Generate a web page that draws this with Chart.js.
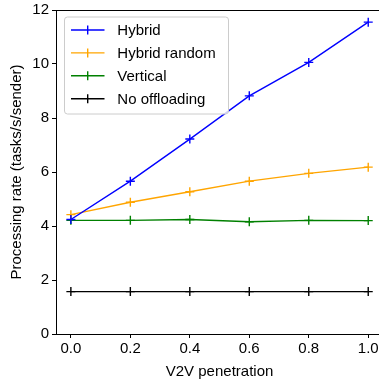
<!DOCTYPE html>
<html>
<head>
<meta charset="utf-8">
<script src="https://cdn.jsdelivr.net/npm/chart.js@4/dist/chart.umd.min.js"></script>
<style>
html,body{margin:0;padding:0;background:#fff;overflow:hidden;width:379px;height:381px;}
#wrap{width:379px;height:381px;position:relative;overflow:hidden;}
#c{position:absolute;left:0;top:0;}
</style>
</head>
<body>
<div id="wrap"><canvas id="c" width="389" height="381" style="width:389px;height:381px"></canvas></div>
<script>
const penetration = [0.0, 0.2, 0.4, 0.6, 0.8, 1.0];
const hybrid = [4.24, 5.66, 7.22, 8.82, 10.06, 11.55];
const hybridRandom = [4.42, 4.88, 5.27, 5.66, 5.95, 6.18];
const vertical = [4.21, 4.21, 4.24, 4.16, 4.21, 4.20];
const noOffloading = [1.57, 1.57, 1.57, 1.57, 1.57, 1.57];
const seriesNames = ["Hybrid", "Hybrid random", "Vertical", "No offloading"];
const seriesColors = ["#0000ff", "#ffa500", "#008000", "#000000"];
const xTicks = [0.0, 0.2, 0.4, 0.6, 0.8, 1.0];
const yTicks = [0, 2, 4, 6, 8, 10, 12];

const FONT = "'Liberation Sans', Arial, sans-serif";
const allSeries = [hybrid, hybridRandom, vertical, noOffloading];

const datasets = allSeries.map((s, i) => ({
  label: seriesNames[i],
  data: s.map((v, j) => ({x: penetration[j], y: v})),
  borderColor: seriesColors[i],
  backgroundColor: seriesColors[i],
  borderWidth: 1.4,
  pointStyle: 'cross',
  pointRadius: 4.5,
  pointBorderWidth: 1.4,
  pointHoverRadius: 4.5,
  tension: 0,
  fill: false
}));

const framePlugin = {
  id: 'frame',
  afterDatasetsDraw(chart) {
    const ctx = chart.ctx, a = chart.chartArea;
    ctx.save();
    ctx.strokeStyle = '#000';
    ctx.lineWidth = 1;
    ctx.beginPath();
    ctx.moveTo(a.left, a.top + 0.5);
    ctx.lineTo(a.right, a.top + 0.5);
    ctx.moveTo(a.right - 0.5, a.top);
    ctx.lineTo(a.right - 0.5, a.bottom);
    ctx.stroke();
    // legend
    const x0 = 64.5, y0 = 17, w = 164, h = 97;
    ctx.beginPath();
    ctx.roundRect(x0, y0, w, h, 3);
    ctx.fillStyle = 'rgba(255,255,255,0.8)';
    ctx.fill();
    ctx.strokeStyle = '#cccccc';
    ctx.lineWidth = 1;
    ctx.stroke();
    ctx.font = '15px ' + FONT;
    ctx.textBaseline = 'middle';
    chart.data.datasets.forEach((ds, i) => {
      const yy = 30 + i * 22.9;
      ctx.strokeStyle = ds.borderColor;
      ctx.lineWidth = 1.4;
      ctx.beginPath();
      ctx.moveTo(71, yy); ctx.lineTo(104.5, yy);
      ctx.moveTo(87.7, yy - 4.5); ctx.lineTo(87.7, yy + 4.5);
      ctx.stroke();
      ctx.fillStyle = '#000';
      ctx.fillText(ds.label, 117.3, yy + 1);
    });
    ctx.restore();
  }
};

new Chart(document.getElementById('c'), {
  type: 'line',
  data: {datasets},
  plugins: [framePlugin],
  options: {
    responsive: false,
    animation: false,
    events: [],
    layout: {padding: {top: 10, right: 0, left: 0, bottom: 0}},
    plugins: {legend: {display: false}, tooltip: {enabled: false}},
    scales: {
      x: {
        type: 'linear',
        min: -0.05, max: 1.05,
        afterBuildTicks: s => { s.ticks = xTicks.map(v => ({value: v})); },
        afterFit: s => { s.height = 47; s.paddingLeft = 0; s.paddingRight = 0; },
        border: {color: '#000', width: 1},
        grid: {drawOnChartArea: false, drawTicks: true, tickLength: 4, color: '#000'},
        ticks: {color: '#000', font: {family: FONT, size: 15}, padding: 2,
          callback: v => Number(v).toFixed(1), maxRotation: 0},
        title: {display: true, text: 'V2V penetration', color: '#000',
          font: {family: FONT, size: 15}, padding: {top: 0, bottom: 0}}
      },
      y: {
        type: 'linear',
        min: 0, max: 12,
        afterBuildTicks: s => { s.ticks = yTicks.map(v => ({value: v})); },
        afterFit: s => { s.width = 56; s.paddingTop = 0; s.paddingBottom = 0; },
        border: {color: '#000', width: 1},
        grid: {drawOnChartArea: false, drawTicks: true, tickLength: 4, color: '#000'},
        ticks: {color: '#000', font: {family: FONT, size: 15}, padding: 3},
        title: {display: true, text: 'Processing rate (tasks/s/sender)', color: '#000',
          font: {family: FONT, size: 15}, padding: {top: 8, bottom: 4}}
      }
    }
  }
});
</script>
</body>
</html>
